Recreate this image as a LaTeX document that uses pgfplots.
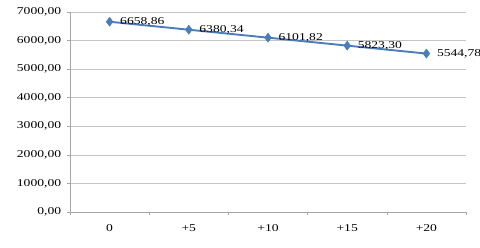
\documentclass[border=0pt]{standalone}
\usepackage{pgfplots}
\pgfplotsset{compat=1.18}
\usepackage{fontspec}
\setmainfont{Liberation Serif}
\definecolor{lineblue}{HTML}{4A7EBB}
\definecolor{gridgray}{HTML}{C4C4C4}
\definecolor{axisgray}{HTML}{A6A6A6}
\begin{document}
\begin{tikzpicture}
\path[use as bounding box] (0,0) rectangle (480bp,248bp);
\begin{axis}[
  at={(70bp,36bp)}, anchor=south west,
  scale only axis, width=396bp, height=200bp,
  xmin=-0.5, xmax=4.5, ymin=0, ymax=7000,
  xtick={0,1,2,3,4}, xticklabels={0,+5,+10,+15,+20},
  minor xtick={-0.5,0.5,1.5,2.5,3.5,4.5},
  ytick={0,1000,...,7000},
  axis x line*=bottom, axis y line*=left,
  axis line style={draw=axisgray, line width=0.8pt, -},
  tick align=outside,
  major tick length=3bp, minor tick length=3bp,
  major x tick style={draw=none},
  every tick/.style={draw=axisgray, line width=0.6pt},
  minor tick style={draw=axisgray, line width=0.6pt},
  ymajorgrids, grid style={draw=gridgray, line width=0.7pt},
  /pgf/number format/.cd, fixed, fixed zerofill, precision=2, use comma, 1000 sep={}, assume math mode=true,
  /pgfplots/.cd,
  tick label style={font=\fontsize{10.5}{12}\selectfont, xscale=1.3},
  yticklabel style={xshift=-1bp},
  xticklabel style={yshift=-6bp},
  clip=false,
  nodes near coords,
  every node near coord/.append style={anchor=west, xshift=6bp, yshift=-0.5bp, font=\fontsize{10.5}{12}\selectfont, xscale=1.3, text=black},
]
\addplot[color=lineblue, line width=1.9pt, mark=diamond*, mark size=4.5bp, mark options={fill=lineblue, draw=lineblue, line width=0.5pt}]
  coordinates {(0,6658.86) (1,6380.34) (2,6101.82) (3,5823.30) (4,5544.78)};
\end{axis}
\end{tikzpicture}
\end{document}
